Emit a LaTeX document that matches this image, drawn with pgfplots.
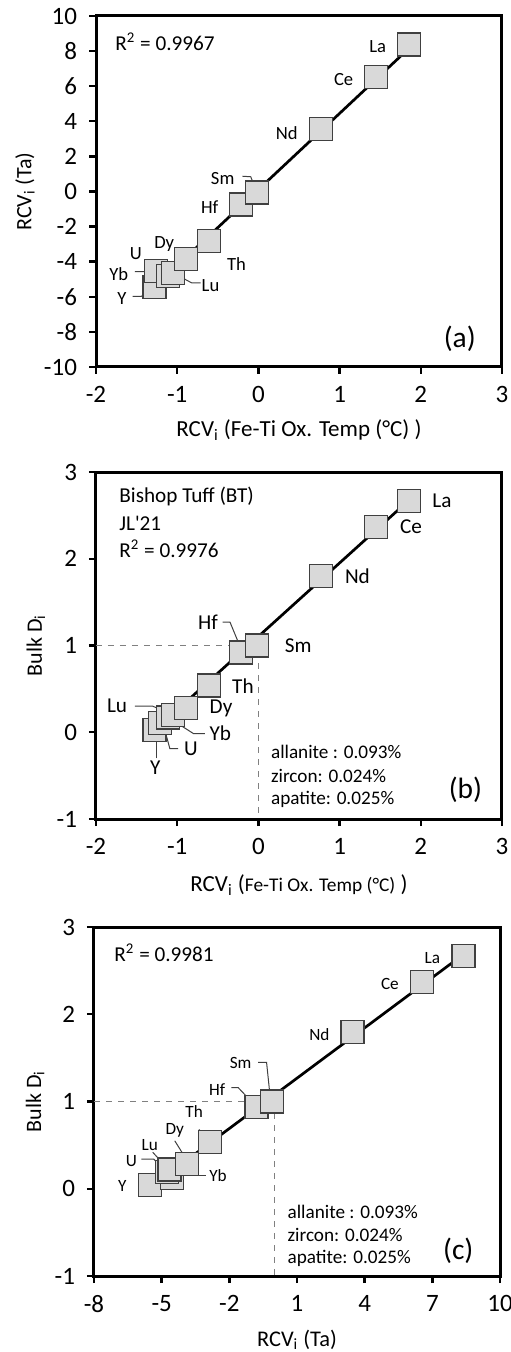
\documentclass[border=0pt]{standalone}
\usepackage{fontspec}
\setmainfont{Carlito}
\newfontfamily\plainfont{Carlito}
\usepackage{pgfplots}
\pgfplotsset{compat=1.18}
\definecolor{mkfill}{HTML}{D9D9D9}
\definecolor{mkedge}{HTML}{404040}
\tikzset{txt/.style={anchor=west, inner sep=0pt}}
\pgfplotsset{
  panel/.style={
    scale only axis, width=203pt,
    tick align=outside, tick pos=left,
    axis line style={line width=1.5pt},
    major tick style={line width=1.2pt, black},
    major tick length=3.5pt,
    /pgf/number format/assume math mode=true,
    ticklabel style={font=\fontsize{12.5}{14}\selectfont},
    yticklabel style={xshift=-2.5pt},
    xticklabel style={yshift=-2.5pt},
    label style={font=\fontsize{11}{13}\selectfont},
    clip=false,
  },
  pts/.style={only marks, mark=square*, mark size=5.75pt,
    mark options={fill=mkfill, draw=mkedge, line width=0.6pt}},
  fit/.style={black, line width=1.35pt, no marks},
  lead/.style={mkedge, line width=0.5pt, no marks},
  ref/.style={gray, dashed, line width=0.4pt, no marks},
}
\newcommand{\lb}[1]{\fontsize{#1}{#1}\selectfont}
\begin{document}
\begin{tikzpicture}
\useasboundingbox (0,0) rectangle (255pt,-676pt);
% ---------------- (a)
\begin{axis}[panel, at={(48pt,-183.5pt)}, anchor=south west, height=175.5pt,
  xmin=-2, xmax=3, ymin=-10, ymax=10,
  xtick={-2,-1,0,1,2,3}, ytick={-10,-8,...,10},
  xlabel={RCV\textsubscript{i} (Fe-Ti Ox. Temp (°C) )},
  ylabel={RCV\textsubscript{i} (Ta)},
  xlabel style={at={(axis description cs:0.5,-0.1795)}, anchor=center, font=\lb{11.5}},
  ylabel style={at={(axis description cs:-0.175,0.5)}, anchor=center},
]
\addplot[pts] coordinates {
 (-1.28,-5.46) (-1.26,-4.52) (-1.11,-4.80) (-1.05,-4.64) (-0.89,-3.84)
 (-0.61,-2.81) (-0.21,-0.74) (-0.02,-0.06) (0.77,3.54) (1.45,6.52) (1.85,8.38)};
\addplot[fit] coordinates {(-1.28,-5.44) (1.86,8.18)};
\addplot[lead] coordinates {(-0.196,0.87) (-0.094,0.84) (-0.028,0.04)};
\addplot[lead] coordinates {(-1.52,-4.56) (-1.36,-4.56) (-1.11,-4.8)};
\addplot[lead] coordinates {(-0.71,-5.21) (-0.82,-5.21) (-1.05,-4.64)};
\addplot[lead] coordinates {(-1.55,-5.97) (-1.44,-5.97) (-1.28,-5.46)};
\node[font=\lb{9.3}] at (axis cs:1.47,8.25) {La};
\node[font=\lb{9.3}] at (axis cs:1.05,6.4) {Ce};
\node[font=\lb{9.3}] at (axis cs:0.35,3.35) {Nd};
\node[font=\lb{9.3}] at (axis cs:-0.44,0.74) {Sm};
\node[font=\lb{9.3}] at (axis cs:-0.6,-0.87) {Hf};
\node[font=\lb{9.3}] at (axis cs:-0.27,-4.14) {Th};
\node[font=\lb{9.3}] at (axis cs:-1.16,-2.97) {Dy};
\node[font=\lb{9.3}] at (axis cs:-1.51,-3.54) {U};
\node[font=\lb{9.3}] at (axis cs:-1.72,-4.73) {Yb};
\node[font=\lb{9.3}] at (axis cs:-0.59,-5.34) {Lu};
\node[font=\lb{9.3}] at (axis cs:-1.68,-6.1) {Y};
\node[txt, font=\lb{10.6}] at (axis cs:-1.766,8.54) {R\textsuperscript{2} = 0.9967};
\node[font=\lb{14.7}] at (axis cs:2.48,-8.38) {(a)};
\end{axis}
% ---------------- (b)
\begin{axis}[panel, at={(48pt,-409.5pt)}, anchor=south west, height=173.5pt,
  xmin=-2, xmax=3, ymin=-1, ymax=3,
  xtick={-2,-1,0,1,2,3}, ytick={-1,0,1,2,3},
  xlabel={RCV\textsubscript{i} ({\fontsize{9.7}{10}\selectfont Fe-Ti Ox. Temp (°C)} )},
  ylabel={Bulk D\textsubscript{i}},
  xlabel style={at={(axis description cs:0.5,-0.19)}, anchor=center, font=\lb{11.5}},
  ylabel style={at={(axis description cs:-0.148,0.5)}, anchor=center},
]
\addplot[ref] coordinates {(-2,1) (0,1) (0,-1)};
\addplot[pts] coordinates {
 (-1.28,0.03) (-1.21,0.11) (-1.11,0.17) (-1.05,0.20) (-0.89,0.28)
 (-0.61,0.54) (-0.21,0.92) (-0.02,1.0) (0.77,1.80) (1.45,2.37) (1.85,2.67)};
\addplot[fit] coordinates {(-1.28,0.02) (1.86,2.68)};
\addplot[lead] coordinates {(-0.44,1.27) (-0.35,1.27) (-0.2,0.93)};
\addplot[lead] coordinates {(-1.52,0.30) (-1.30,0.30) (-1.05,0.2)};
\addplot[lead] coordinates {(-0.66,-0.015) (-0.8,-0.015) (-1.11,0.17)};
\addplot[lead] coordinates {(-0.99,-0.19) (-1.09,-0.19) (-1.16,0.05)};
\addplot[lead] coordinates {(-1.26,-0.3) (-1.26,-0.03)};
\node[font=\lb{10.6}] at (axis cs:2.26,2.67) {La};
\node[font=\lb{10.6}] at (axis cs:1.88,2.37) {Ce};
\node[font=\lb{10.6}] at (axis cs:1.22,1.8) {Nd};
\node[font=\lb{10.6}] at (axis cs:0.49,1.0) {Sm};
\node[font=\lb{10.6}] at (axis cs:-0.62,1.27) {Hf};
\node[font=\lb{10.6}] at (axis cs:-0.19,0.53) {Th};
\node[font=\lb{10.6}] at (axis cs:-0.46,0.27) {Dy};
\node[font=\lb{10.6}] at (axis cs:-1.74,0.30) {Lu};
\node[font=\lb{10.6}] at (axis cs:-0.47,-0.015) {Yb};
\node[font=\lb{10.6}] at (axis cs:-0.83,-0.19) {U};
\node[font=\lb{10.6}] at (axis cs:-1.27,-0.41) {Y};
\node[txt, font=\lb{10.6}] at (axis cs:-1.717,2.72) {Bishop Tuff (BT)};
\node[txt, font=\lb{10.6}] at (axis cs:-1.717,2.41) {\plainfont JL'21};
\node[txt, font=\lb{10.6}] at (axis cs:-1.717,2.12) {R\textsuperscript{2} = 0.9976};
\node[txt, font=\lb{9.6}] at (axis cs:0.151,-0.23) {allanite : 0.093\%};
\node[txt, font=\lb{9.6}] at (axis cs:0.151,-0.50) {zircon: 0.024\%};
\node[txt, font=\lb{9.6}] at (axis cs:0.151,-0.77) {apatite: 0.025\%};
\node[font=\lb{14.7}] at (axis cs:2.55,-0.66) {(b)};
\end{axis}
% ---------------- (c)
\begin{axis}[panel, at={(47pt,-638pt)}, anchor=south west, height=174.5pt,
  xmin=-8, xmax=10, ymin=-1, ymax=3,
  xtick={-8,-5,-2,1,4,7,10}, ytick={-1,0,1,2,3},
  xlabel={RCV\textsubscript{i} (Ta)},
  ylabel={Bulk D\textsubscript{i}},
  xlabel style={at={(axis description cs:0.5,-0.183)}, anchor=center, font=\lb{11.2}},
  ylabel style={at={(axis description cs:-0.145,0.5)}, anchor=center},
]
\addplot[ref] coordinates {(-8,1) (0,1) (0,-1)};
\addplot[pts] coordinates {
 (-5.5,0.04) (-4.55,0.12) (-4.75,0.19) (-4.65,0.22) (-3.87,0.28)
 (-2.85,0.54) (-0.8,0.94) (-0.1,1.0) (3.46,1.80) (6.53,2.37) (8.38,2.67)};
\addplot[fit] coordinates {(-5.54,0.01) (8.45,2.70)};
\addplot[lead] coordinates {(-0.72,1.45) (-0.35,1.45) (-0.18,1.03)};
\addplot[lead] coordinates {(-1.91,1.16) (-1.61,1.16) (-0.8,0.94)};
\addplot[lead] coordinates {(-3.35,0.68) (-2.86,0.55)};
\addplot[lead] coordinates {(-4.42,0.55) (-3.72,0.26)};
\addplot[lead] coordinates {(-5.9,0.34) (-5.35,0.34) (-4.6,0.15)};
\addplot[lead] coordinates {(-5.4,0.42) (-4.7,0.22)};
\addplot[lead] coordinates {(-3.05,0.15) (-3.9,0.15)};
\node[font=\lb{8.6}] at (axis cs:7.0,2.64) {La};
\node[font=\lb{8.6}] at (axis cs:5.12,2.35) {Ce};
\node[font=\lb{8.6}] at (axis cs:1.99,1.77) {Nd};
\node[font=\lb{8.6}] at (axis cs:-1.5,1.44) {Sm};
\node[font=\lb{8.6}] at (axis cs:-2.54,1.14) {Hf};
\node[font=\lb{8.6}] at (axis cs:-3.56,0.89) {Th};
\node[font=\lb{8.6}] at (axis cs:-4.42,0.67) {Dy};
\node[font=\lb{8.6}] at (axis cs:-5.53,0.5) {Lu};
\node[font=\lb{8.6}] at (axis cs:-6.34,0.32) {U};
\node[font=\lb{8.6}] at (axis cs:-2.5,0.15) {Yb};
\node[font=\lb{8.6}] at (axis cs:-6.74,0.03) {Y};
\node[txt, font=\lb{10.6}] at (axis cs:-7.11,2.70) {R\textsuperscript{2} = 0.9981};
\node[txt, font=\lb{9.6}] at (axis cs:0.566,-0.26) {allanite : 0.093\%};
\node[txt, font=\lb{9.6}] at (axis cs:0.566,-0.53) {zircon: 0.024\%};
\node[txt, font=\lb{9.6}] at (axis cs:0.566,-0.80) {apatite: 0.025\%};
\node[font=\lb{14.7}] at (axis cs:8.15,-0.71) {(c)};
\end{axis}
\end{tikzpicture}
\end{document}
